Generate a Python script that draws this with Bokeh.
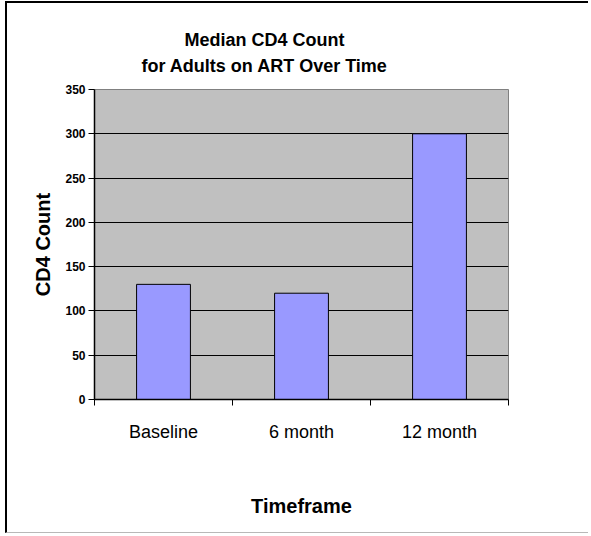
from bokeh.plotting import figure
from bokeh.models import Range1d, FixedTicker, Title
from bokeh.embed import file_html
from bokeh.resources import INLINE

categories = ["Baseline", "6 month", "12 month"]
median_cd4 = [130, 120, 300]
y_ticks = [0, 50, 100, 150, 200, 250, 300, 350]
title_lines = ["Median CD4 Count", "for Adults on ART Over Time"]
x_title = "Timeframe"
y_title = "CD4 Count"

FONT = "Liberation Sans"
n = len(categories)
xpos = [i + 0.5 for i in range(n)]
ymax = y_ticks[-1]

p = figure(width=583, height=532, output_backend="svg", toolbar_location=None,
           title=None,
           x_range=Range1d(0, n), y_range=Range1d(0, ymax),
           min_border_left=87, min_border_right=82, min_border_top=86, min_border_bottom=136,
           background_fill_color="#C0C0C0", border_fill_color="white",
           outline_line_color="#808080", outline_line_width=1,
           styles={"margin-left": "5px", "margin-top": "1px",
                   "border-left": "2px solid black", "border-top": "2px solid black",
                   "border-bottom": "1px solid #b8b8b8"})

p.vbar(x=xpos, top=median_cd4, bottom=0, width=0.39,
       fill_color="#9999FF", line_color="black", line_width=1)

# x axis: labels at category centres, ticks at category boundaries
xa = p.xaxis[0]
xa.ticker = FixedTicker(ticks=xpos, minor_ticks=list(range(n + 1)))
xa.major_label_overrides = {x: c for x, c in zip(xpos, categories)}
xa.major_tick_line_color = None
xa.major_tick_out = 0
xa.major_tick_in = 0
xa.minor_tick_out = 6
xa.minor_tick_in = 0
xa.minor_tick_line_color = "black"
xa.axis_line_color = "black"
xa.axis_line_width = 1.5
xa.major_label_text_font = FONT
xa.major_label_text_font_size = "18px"
xa.major_label_text_color = "black"
xa.major_label_standoff = 16
xa.axis_label = x_title
xa.axis_label_text_font = FONT
xa.axis_label_text_font_size = "20px"
xa.axis_label_text_font_style = "bold"
xa.axis_label_text_color = "black"
xa.axis_label_standoff = 50

ya = p.yaxis[0]
ya.ticker = FixedTicker(ticks=y_ticks, minor_ticks=[])
ya.major_tick_out = 6
ya.major_tick_in = 0
ya.major_tick_line_color = "black"
ya.minor_tick_line_color = None
ya.axis_line_color = "black"
ya.axis_line_width = 1.5
ya.major_label_text_font = FONT
ya.major_label_text_font_size = "12px"
ya.major_label_text_font_style = "bold"
ya.major_label_text_color = "black"
ya.major_label_standoff = 3
ya.axis_label = y_title
ya.axis_label_text_font = FONT
ya.axis_label_text_font_size = "20px"
ya.axis_label_text_font_style = "bold"
ya.axis_label_text_color = "black"
ya.axis_label_standoff = 8

p.xgrid.visible = False
p.ygrid.ticker = FixedTicker(ticks=y_ticks[1:-1], minor_ticks=[])
p.ygrid.grid_line_color = "black"
p.ygrid.grid_line_width = 1

# titles: the one added later sits further from the frame
for text, off, standoff in [(title_lines[1], 47, 28), (title_lines[0], 90, -21)]:
    p.add_layout(Title(text=text, align="left", offset=off, standoff=standoff,
                       text_font=FONT, text_font_size="18px",
                       text_font_style="bold", text_color="black"), "above")

open("out.html", "w").write(file_html(p, INLINE))
